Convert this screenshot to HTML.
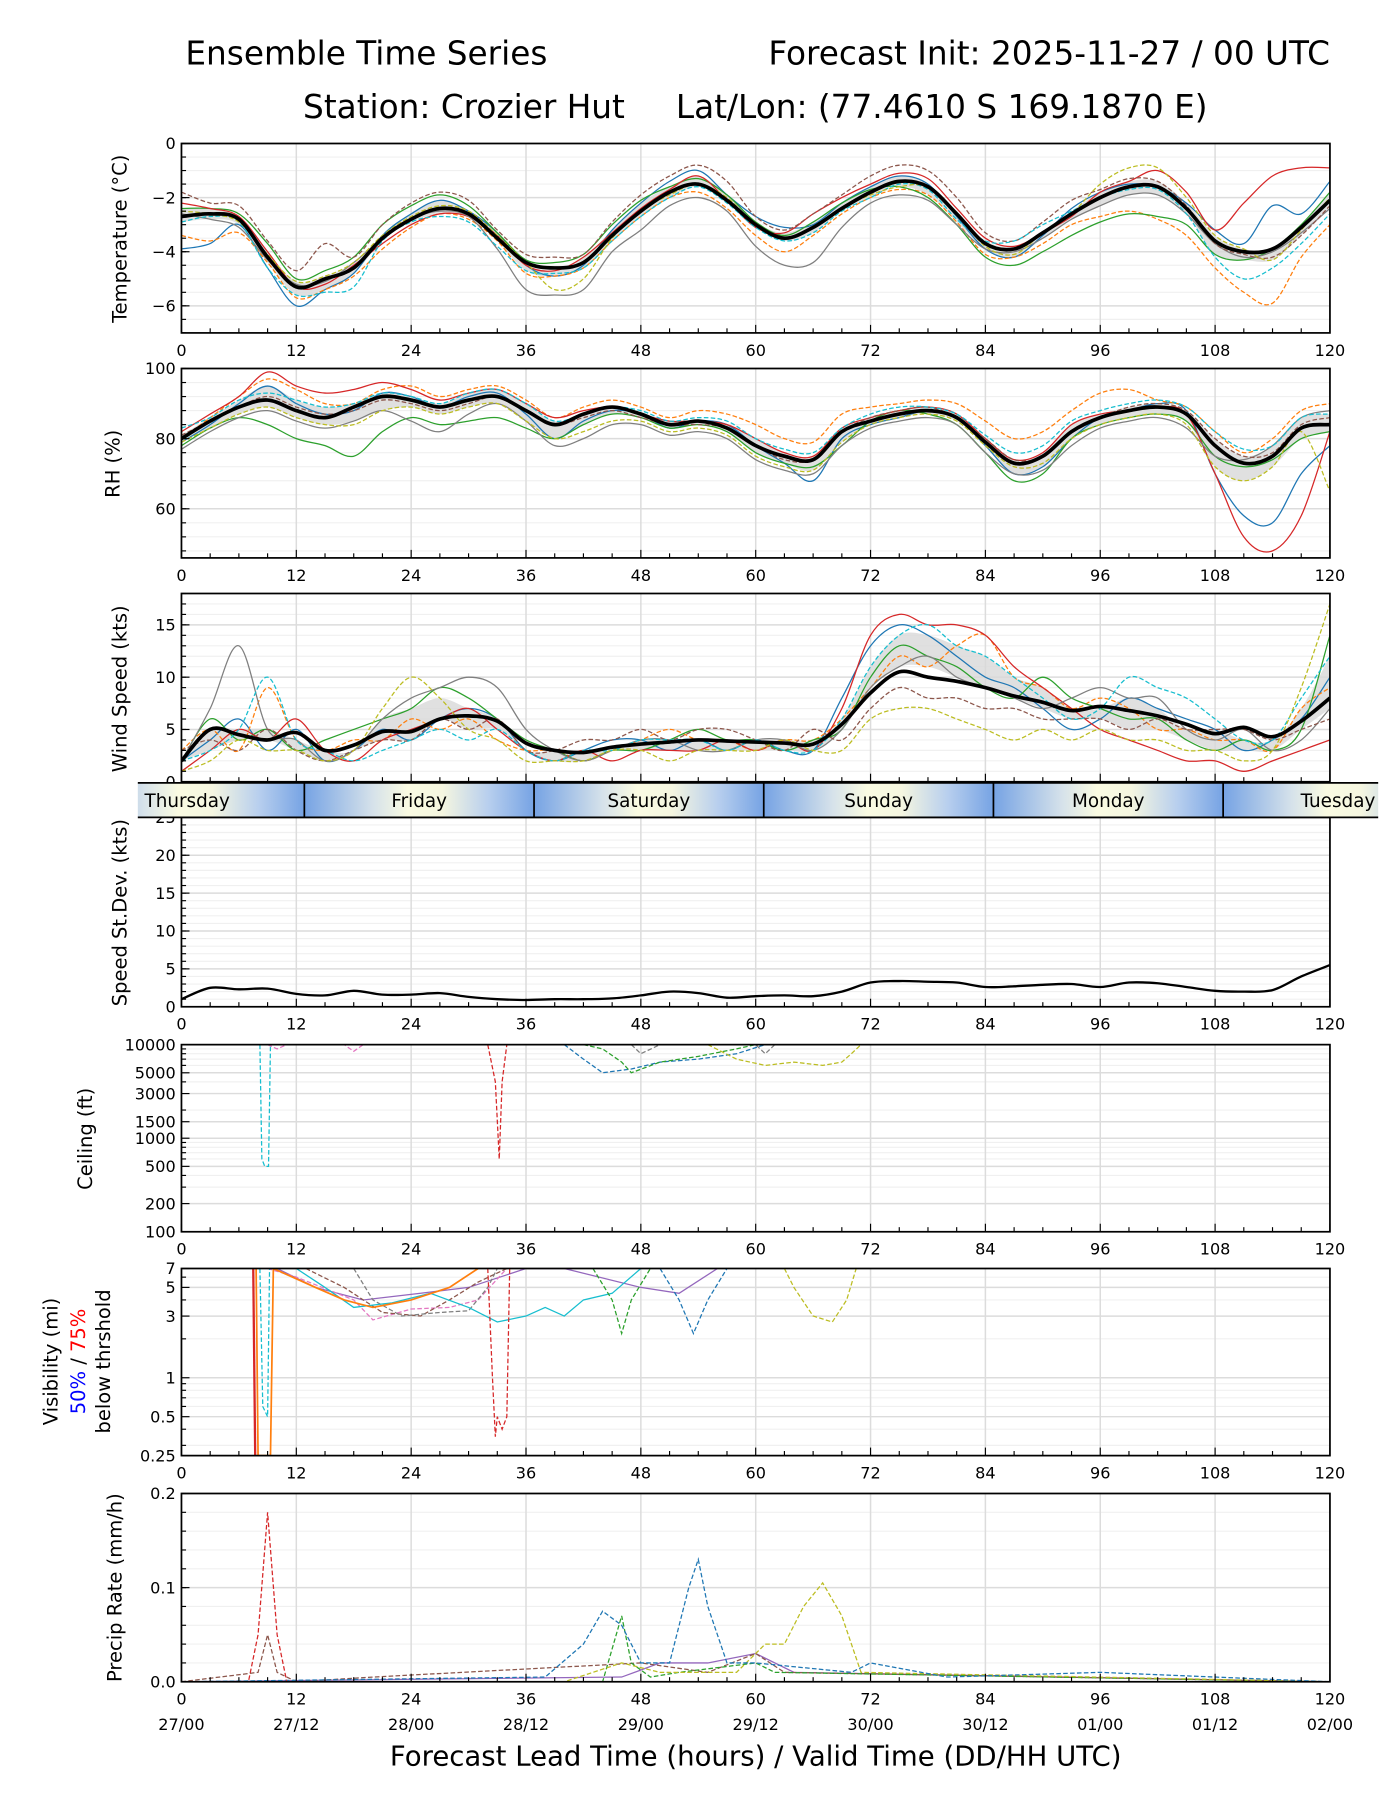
<!DOCTYPE html>
<html><head><meta charset="utf-8"><style>
html,body{margin:0;padding:0;background:#fff;}
svg{display:block;font-family:"DejaVu Sans","Liberation Sans",sans-serif;}
</style></head><body>
<svg id="chart" width="1400" height="1800" viewBox="0 0 1219 1568" preserveAspectRatio="none" xmlns="http://www.w3.org/2000/svg">
<defs>
<linearGradient id="dayGrad" gradientUnits="userSpaceOnUse" x1="265" y1="0" x2="465" y2="0" spreadMethod="repeat">
<stop offset="0" stop-color="#76a3e4"/><stop offset="0.3" stop-color="#d6e2ea"/><stop offset="0.45" stop-color="#fafbe2"/><stop offset="0.6" stop-color="#f5f6e0"/><stop offset="0.8" stop-color="#b8cfee"/><stop offset="1" stop-color="#76a3e4"/>
</linearGradient>
</defs>
<text x="319" y="56" font-size="28.5" text-anchor="middle">Ensemble Time Series</text>
<text x="1158" y="56" font-size="28.5" text-anchor="end">Forecast Init: 2025-11-27 / 00 UTC</text>
<text x="404" y="103" font-size="28.5" text-anchor="middle">Station: Crozier Hut</text>
<text x="820" y="103" font-size="28.5" text-anchor="middle">Lat/Lon: (77.4610 S 169.1870 E)</text>
<g id="layer"></g>
</svg>
<script>
// ---------- DATA ----------
const hours3 = [0,3,6,9,12,15,18,21,24,27,30,33,36,39,42,45,48,51,54,57,60,63,66,69,72,75,78,81,84,87,90,93,96,99,102,105,108,111,114,117,120];
const xTicks = [0,12,24,36,48,60,72,84,96,108,120];
const dateLabels = ["27/00","27/12","28/00","28/12","29/00","29/12","30/00","30/12","01/00","01/12","02/00"];
const dayNames = ["Thursday","Friday","Saturday","Sunday","Monday","Tuesday"];
const colors = ["#1f77b4","#ff7f0e","#2ca02c","#d62728","#7f7f7f","#8c564b","#17becf","#bcbd22"];
const dashed = [false,true,false,false,false,true,true,true];

const tempMean = [-2.7,-2.6,-2.8,-4.2,-5.3,-5.0,-4.6,-3.5,-2.8,-2.4,-2.6,-3.5,-4.4,-4.6,-4.4,-3.4,-2.5,-1.8,-1.5,-2.1,-3.0,-3.5,-3.1,-2.4,-1.8,-1.4,-1.6,-2.6,-3.7,-3.9,-3.3,-2.6,-2.0,-1.6,-1.6,-2.4,-3.6,-4.0,-3.9,-3.1,-2.1];
const tempM1 = [-3.9,-3.7,-3.0,-4.6,-6.0,-5.4,-4.8,-3.4,-2.6,-2.1,-2.5,-3.3,-4.5,-4.9,-4.5,-3.2,-2.2,-1.4,-1.0,-1.9,-2.7,-3.1,-3.0,-2.2,-1.6,-1.2,-1.5,-2.7,-3.9,-4.2,-3.4,-2.4,-1.8,-1.5,-1.6,-2.2,-3.2,-3.7,-2.3,-2.6,-1.4];
const tempM2 = [-3.4,-3.6,-3.3,-4.4,-5.7,-5.4,-4.9,-3.9,-3.1,-2.6,-2.8,-3.6,-4.8,-4.9,-4.6,-3.6,-2.7,-2.0,-1.8,-2.4,-3.4,-4.0,-3.4,-2.6,-2.0,-1.7,-1.9,-2.9,-4.1,-4.2,-3.7,-3.0,-2.7,-2.5,-2.8,-3.4,-4.6,-5.5,-5.9,-4.2,-3.0];
const tempM3 = [-2.4,-2.4,-2.6,-3.7,-5.0,-4.7,-4.2,-3.0,-2.3,-1.9,-2.3,-3.3,-4.3,-4.4,-4.1,-3.0,-2.1,-1.6,-1.3,-1.9,-2.9,-3.4,-2.9,-2.2,-1.7,-1.6,-2.0,-3.0,-4.2,-4.5,-4.0,-3.4,-2.9,-2.6,-2.7,-3.0,-4.1,-4.3,-3.9,-3.0,-1.8];
const tempM4 = [-2.2,-2.4,-2.7,-4.0,-5.3,-5.2,-4.5,-3.7,-3.0,-2.6,-2.7,-3.4,-4.5,-4.7,-4.2,-3.3,-2.4,-1.7,-1.2,-2.1,-3.1,-3.3,-2.6,-2.0,-1.5,-1.1,-1.3,-2.4,-3.5,-3.8,-3.3,-2.7,-1.8,-1.4,-1.0,-1.8,-3.2,-2.2,-1.2,-0.9,-0.9];
const tempM5 = [-2.6,-2.8,-3.1,-4.3,-5.2,-5.1,-4.4,-3.5,-2.8,-2.5,-2.7,-3.9,-5.4,-5.6,-5.4,-4.0,-3.2,-2.3,-2.0,-2.5,-3.8,-4.5,-4.4,-3.1,-2.2,-1.9,-2.1,-3.0,-3.9,-4.0,-3.5,-2.8,-2.3,-1.9,-1.9,-2.6,-3.7,-4.2,-4.0,-3.3,-2.4];
const tempM6 = [-1.8,-2.2,-2.3,-3.6,-4.7,-3.7,-4.2,-3.0,-2.2,-1.8,-2.1,-3.2,-4.1,-4.2,-4.1,-2.9,-1.9,-1.2,-0.8,-1.4,-2.7,-3.2,-2.6,-1.9,-1.2,-0.8,-1.0,-2.0,-3.3,-3.6,-2.9,-2.1,-1.7,-1.3,-1.4,-2.3,-3.7,-4.1,-4.2,-3.4,-2.3];
const tempM7 = [-2.9,-2.7,-2.9,-4.6,-5.6,-5.5,-5.3,-3.6,-2.9,-2.7,-2.9,-3.8,-4.7,-4.8,-4.6,-3.6,-2.7,-2.0,-1.6,-2.2,-3.1,-3.6,-3.3,-2.5,-2.0,-1.5,-1.7,-2.8,-3.6,-3.6,-3.0,-2.5,-2.0,-1.7,-1.7,-2.6,-4.2,-5.0,-4.6,-3.7,-2.6];
const tempM8 = [-2.5,-2.6,-2.9,-4.1,-5.1,-4.9,-4.4,-3.4,-2.7,-2.3,-2.5,-3.4,-4.4,-5.4,-5.0,-3.5,-2.5,-1.9,-1.5,-2.0,-3.0,-3.5,-3.1,-2.4,-1.9,-1.6,-1.6,-2.6,-3.8,-4.1,-3.3,-2.6,-1.5,-0.9,-0.9,-2.0,-3.4,-3.9,-4.3,-3.2,-2.0];

const rhMean = [80,85,89,91,88,86,89,92,91,89,91,92,88,84,87,89,87,84,85,83,78,75,74,82,85,87,88,86,79,73,75,82,86,88,89,87,78,73,75,83,84];
const rhM1 = [79,84,90,95,90,87,88,93,92,89,92,93,87,80,85,88,87,83,85,84,78,73,68,80,84,86,88,86,78,70,72,80,86,88,90,88,70,58,56,70,78];
const rhM2 = [80,86,92,97,94,90,90,94,95,92,94,95,91,86,89,91,89,86,88,87,84,80,79,87,89,90,91,90,85,80,82,88,93,94,91,89,82,76,80,88,90];
const rhM3 = [78,83,86,84,80,78,75,82,86,84,85,86,83,80,84,87,86,83,84,82,76,73,72,78,85,88,87,84,76,68,70,80,84,86,87,85,75,72,74,80,82];
const rhM4 = [82,87,92,99,95,93,94,96,94,91,93,94,90,86,88,89,87,85,85,84,80,76,75,83,86,88,89,87,80,74,76,84,87,88,89,87,70,52,48,58,82];
const rhM5 = [77,82,86,88,85,83,85,88,85,82,87,90,85,78,80,84,84,81,82,80,74,71,70,78,83,85,86,84,76,70,71,78,83,85,86,83,75,74,78,86,88];
const rhM6 = [81,85,89,92,89,87,88,91,90,88,90,92,88,84,86,88,86,84,84,83,78,74,74,82,86,88,89,86,80,74,75,82,86,89,90,88,80,75,76,84,86];
const rhM7 = [83,86,91,93,91,89,90,93,92,90,93,94,90,85,87,89,88,85,86,85,80,77,76,83,87,89,89,87,81,76,78,85,88,90,91,89,82,77,78,86,87];
const rhM8 = [79,83,87,89,86,84,84,88,89,87,89,90,85,80,82,85,85,82,83,81,75,72,71,79,84,86,87,85,78,72,73,80,84,86,87,84,72,68,72,82,65];

const windMean = [2,5,4.5,4,4.7,3,3.5,4.8,4.8,6.0,6.3,5.8,3.7,3.0,2.8,3.3,3.6,3.8,4.0,3.9,3.8,3.7,3.6,5.5,8.5,10.5,10.0,9.6,9.0,8.2,7.6,6.8,7.2,6.8,6.3,5.5,4.6,5.2,4.3,5.8,8.0];
const windM1 = [2,4,6,3,5,2,3,5,4,6,7,6,3,2,3,4,4,3,4,3,4,3,3,8,13,15,14,12,10,9,7,5,6,8,7,6,5,3,4,6,10];
const windM2 = [3,5,3,9,4,3,4,4,6,5,6,4,3,3,2,3,4,5,4,4,3,4,4,6,9,12,11,13,14,10,9,7,8,7,5,5,4,4,3,7,9];
const windM3 = [2,6,4,5,3,4,5,6,7,9,8,6,4,3,2,3,3,4,5,4,4,3,4,5,10,13,12,11,9,8,10,8,7,6,6,4,3,4,3,5,14];
const windM4 = [1,3,5,4,6,3,2,4,5,6,7,5,3,2,3,2,3,3,3,4,3,4,3,7,14,16,15,15,14,11,9,7,5,4,3,2,2,1,2,3,4];
const windM5 = [2,7,13,5,4,2,3,6,8,9,10,9,5,3,2,3,4,4,3,3,4,4,3,5,9,11,12,10,9,8,7,8,9,8,8,5,4,5,3,4,7];
const windM6 = [3,4,3,5,3,2,3,4,4,6,5,6,3,3,4,4,5,4,5,5,4,3,5,4,7,9,8,8,7,7,6,6,6,5,6,5,5,5,4,5,6];
const windM7 = [2,3,5,10,4,3,2,3,4,5,4,5,3,2,3,3,4,4,4,3,4,3,3,6,11,14,15,13,12,10,8,6,7,10,9,8,6,4,4,8,12];
const windM8 = [1,2,4,3,3,2,3,7,10,8,5,4,2,2,2,3,3,2,3,3,3,4,3,3,6,7,7,6,5,4,5,4,5,4,4,3,3,2,3,9,17];

const stdev = [1.0,2.5,2.3,2.4,1.7,1.5,2.1,1.6,1.6,1.8,1.3,1.0,0.9,1.0,1.0,1.1,1.5,2.0,1.8,1.2,1.4,1.5,1.4,2.0,3.2,3.4,3.3,3.2,2.6,2.7,2.9,3.0,2.6,3.2,3.1,2.6,2.1,2.0,2.2,4.0,5.5];

const ceilCyan = [[8.2,10000],[8.4,600],[8.7,500],[9.1,500],[9.3,10000]];
const ceilRed = [[32,10000],[32.8,4000],[33.2,600],[33.5,4000],[34,10000]];
const ceilBlue = [[40,10000],[42,7000],[44,5000],[47,5500],[50,6500],[54,7000],[58,8000],[61,10000]];
const ceilGreen = [[42,10000],[44,9000],[46,6500],[47,5000],[50,6500],[54,7500],[58,9000],[60,10000]];
const ceilOlive = [[55,10000],[58,7000],[61,6000],[64,6500],[67,6000],[69,6500],[70,8000],[71,10000]];
const ceilGrey = [[47,10000],[48,8000],[50,10000],[60,10000],[61,8000],[62,10000]];
const ceilPink = [[9,10000],[10,9000],[11,10000],[17,10000],[18,8500],[19,10000]];

const visRed = [[7.5,7],[7.7,0.25]];
const visRedDash = [[32,7],[32.5,1],[32.8,0.35],[33,0.5],[33.5,0.4],[34,0.5],[34.3,7]];
const visCyan = [[12,7],[15,5],[18,3.5],[22,3.8],[26,4.5],[30,3.5],[33,2.7],[36,3],[38,3.5],[40,3],[42,4],[45,4.5],[48,7]];
const visBlueDash = [[50,7],[52,4],[53.5,2.2],[55,4],[57,7]];
const visOlive = [[63,7],[64,5],[66,3],[68,2.7],[69.5,4],[70.5,7]];
const visGreen = [[43,7],[45,4],[46,2.2],[47,4],[49,7]];
const visGrey = [[18,7],[20,4],[23,3],[27,3.2],[30,3.3],[32,5],[33,7]];
const visPurple = [[10,7],[14,5],[19,4],[25,4.5],[30,5],[36,7],[40,7],[48,5],[52,4.5],[56,7]];
const visBrown = [[13,7],[17,5],[21,3.2],[25,3],[28,4],[31,5.5],[34,7]];
const visPink = [[9,7],[12,6],[18,4],[20,2.8],[24,3.4],[28,3.5],[31,4],[34,7]];
const visCyanDrop = [[8.2,7],[8.5,0.6],[9,0.5],[9.2,7]];
const visOrange = [[7.8,7],[8.0,0.25],[9.3,0.25],[9.6,7],[14,5],[17,4],[20,3.5],[24,4],[28,5],[31,7]];

const pRed = [[0,0],[7,0],[8,0.05],[9,0.18],[10,0.05],[11,0],[120,0]];
const pBlue = [[0,0],[38,0.005],[42,0.04],[44,0.075],[46,0.06],[48,0.02],[51,0.02],[53,0.1],[54,0.13],[55,0.08],[57,0.02],[60,0.02],[70,0.01],[72,0.02],[80,0.005],[96,0.01],[108,0.005],[120,0]];
const pOlive = [[0,0],[40,0],[46,0.02],[50,0.01],[58,0.01],[61,0.04],[63,0.04],[65,0.08],[67,0.105],[69,0.07],[71,0.01],[120,0]];
const pGreen = [[0,0],[44,0],[46,0.07],[47,0.02],[49,0.005],[52,0.01],[60,0.02],[62,0.01],[120,0]];
const pBrown = [[0,0],[8,0.01],[9,0.05],[10,0.01],[12,0],[20,0.005],[48,0.02],[55,0.01],[60,0.03],[63,0.01],[120,0]];
const pPurple = [[0,0],[46,0.005],[50,0.02],[55,0.02],[60,0.03],[64,0.01],[120,0]];

// ---------- DRAW ----------
const NS = "http://www.w3.org/2000/svg";
const layer = document.getElementById("layer");
const X0 = 158, X1 = 1158;
const xs = h => X0 + (X1 - X0) * h / 120;
function mk(tag, attrs, parent) {
  const e = document.createElementNS(NS, tag);
  for (const k in attrs) e.setAttribute(k, attrs[k]);
  (parent || layer).appendChild(e);
  return e;
}
function smoothPath(pts) {
  let d = "M" + pts[0][0].toFixed(1) + "," + pts[0][1].toFixed(1);
  for (let i = 0; i < pts.length - 1; i++) {
    const p0 = pts[Math.max(0, i - 1)], p1 = pts[i], p2 = pts[i + 1], p3 = pts[Math.min(pts.length - 1, i + 2)];
    const c1x = p1[0] + (p2[0] - p0[0]) / 6, c1y = p1[1] + (p2[1] - p0[1]) / 6;
    const c2x = p2[0] - (p3[0] - p1[0]) / 6, c2y = p2[1] - (p3[1] - p1[1]) / 6;
    d += "C" + c1x.toFixed(1) + "," + c1y.toFixed(1) + " " + c2x.toFixed(1) + "," + c2y.toFixed(1) + " " + p2[0].toFixed(1) + "," + p2[1].toFixed(1);
  }
  return d;
}
function linePath(pts) { return "M" + pts.map(p => p[0].toFixed(1) + "," + p[1].toFixed(1)).join("L"); }

function panel(name, top, bot, ys, yticks, ylabels, minorY, clipId) {
  const g = mk("g", {});
  
  
  minorY.forEach(v => mk("line", {x1: X0, x2: X1, y1: ys(v), y2: ys(v), stroke: "#f0f0f0", "stroke-width": 1}, g));
  yticks.forEach(v => mk("line", {x1: X0, x2: X1, y1: ys(v), y2: ys(v), stroke: "#dcdcdc", "stroke-width": 1.3}, g));
  xTicks.forEach(h => mk("line", {x1: xs(h), x2: xs(h), y1: top, y2: bot, stroke: "#dcdcdc", "stroke-width": 1.3}, g));
  const cp = mk("clipPath", {id: clipId}, g);
  mk("rect", {x: X0, y: top, width: X1 - X0, height: bot - top}, cp);
  const data = mk("g", {"clip-path": "url(#" + clipId + ")"}, g);
  for (let h = 0; h <= 120; h += 3) {
    const L = h % 12 === 0 ? 7 : 4;
    mk("line", {x1: xs(h), x2: xs(h), y1: bot, y2: bot - L, stroke: "#000", "stroke-width": 1}, g);
  }
  minorY.forEach(v => mk("line", {x1: X0, x2: X0 + 4, y1: ys(v), y2: ys(v), stroke: "#000", "stroke-width": 1}, g));
  yticks.forEach((v, i) => {
    mk("line", {x1: X0, x2: X0 + 7, y1: ys(v), y2: ys(v), stroke: "#000", "stroke-width": 1}, g);
    const t = mk("text", {x: X0 - 5, y: ys(v) + 5, "font-size": 14, "text-anchor": "end"}, g);
    t.textContent = ylabels[i];
    
    
  });
  xTicks.forEach(h => {
    const t = mk("text", {x: xs(h), y: bot + 20, "font-size": 14, "text-anchor": "middle"}, g);
    t.textContent = h;
    
    
  });
  return {g, data, frame: () => mk("rect", {x: X0, y: top, width: X1 - X0, height: bot - top, fill: "none", stroke: "#000", "stroke-width": 1.5}, g)};
}
function ylab(text, x, yc, size) {
  const t = mk("text", {x: x, y: yc, "font-size": size || 17, "text-anchor": "middle", transform: "rotate(-90 " + x + " " + yc + ")"});
  t.textContent = text;
  
  
  return t;
}
function ensemble(p, members, mean, ys, name) {
  const lo = [], hi = [];
  hours3.forEach((h, i) => {
    const v = members.map(m => m[i]).sort((a, b) => a - b);
    lo.push([xs(h), ys(v[2])]); hi.push([xs(h), ys(v[5])]);
  });
  const band = mk("path", {d: smoothPath(hi) + "L" + smoothPath(lo.slice().reverse()).slice(1) + "Z", fill: "#d8d8d8", "fill-opacity": 0.8, stroke: "none"}, p.data);
  
  
  members.forEach((m, k) => {
    const pts = hours3.map((h, i) => [xs(h), ys(m[i])]);
    const e = mk("path", {d: smoothPath(pts), fill: "none", stroke: colors[k], "stroke-width": 1.1, "stroke-dasharray": dashed[k] ? "4,2" : "none"}, p.data);
    
    
  });
  const mp = hours3.map((h, i) => [xs(h), ys(mean[i])]);
  const e = mk("path", {d: smoothPath(mp), fill: "none", stroke: "#000", "stroke-width": 3.2}, p.data);
  
  
}
function lin(top, bot, vmin, vmax) { return v => bot - (v - vmin) / (vmax - vmin) * (bot - top); }
function logs(top, bot, vmin, vmax) { return v => bot - (Math.log(v) - Math.log(vmin)) / (Math.log(vmax) - Math.log(vmin)) * (bot - top); }
function range(a, b, s) { const r = []; for (let v = a; v <= b + 1e-9; v += s) r.push(+v.toFixed(3)); return r; }

let ys = lin(125, 290, -7, 0);
let p = panel("temperature", 125, 290, ys, [0, -2, -4, -6], ["0", "\u22122", "\u22124", "\u22126"], range(-7, 0, 0.5), "cT");
ensemble(p, [tempM1, tempM2, tempM3, tempM4, tempM5, tempM6, tempM7, tempM8], tempMean, ys, "temperature");
p.frame(); ylab("Temperature (\u00b0C)", 110, 208);

ys = lin(321, 486, 46, 100);
p = panel("rh", 321, 486, ys, [60, 80, 100], ["60", "80", "100"], range(48, 100, 4), "cR");
ensemble(p, [rhM1, rhM2, rhM3, rhM4, rhM5, rhM6, rhM7, rhM8], rhMean, ys, "rh");
p.frame(); ylab("RH (%)", 104, 404);

ys = lin(517, 681, 0, 18);
p = panel("wind", 517, 681, ys, [0, 5, 10, 15], ["0", "5", "10", "15"], range(0, 18, 1), "cW");
ensemble(p, [windM1, windM2, windM3, windM4, windM5, windM6, windM7, windM8], windMean, ys, "wind");
p.frame(); ylab("Wind Speed (kts)", 110, 600);

ys = lin(712, 877, 0, 25);
p = panel("stdev", 712, 877, ys, [0, 5, 10, 15, 20, 25], ["0", "5", "10", "15", "20", "25"], range(0, 25, 1), "cS");
{
  const e = mk("path", {d: smoothPath(hours3.map((h, i) => [xs(h), ys(stdev[i])])), fill: "none", stroke: "#000", "stroke-width": 2}, p.data);
  
  
}
p.frame(); ylab("Speed St.Dev. (kts)", 110, 795);

{
  const g = mk("g", {});
  
  
  mk("rect", {x: 120, y: 682, width: 1080, height: 30, fill: "url(#dayGrad)"}, g);
  mk("line", {x1: 120, x2: 1200, y1: 682, y2: 682, stroke: "#000", "stroke-width": 1.5}, g);
  mk("line", {x1: 120, x2: 1200, y1: 712, y2: 712, stroke: "#000", "stroke-width": 1.5}, g);
  const centers = [163, 365, 565, 765, 965, 1165];
  dayNames.forEach((n, i) => {
    const t = mk("text", {x: centers[i], y: 703, "font-size": 16, "text-anchor": "middle"}, g);
    t.textContent = n;
    
    
    if (i > 0) mk("line", {x1: 65 + 200 * i, x2: 65 + 200 * i, y1: 682, y2: 712, stroke: "#000", "stroke-width": 1.5}, g);
  });
}

function drawSeries(p, list, ys, name) {
  list.forEach(s => {
    const e = mk("path", {d: linePath(s.d.map(q => [xs(q[0]), ys(q[1])])), fill: "none", stroke: s.c, "stroke-width": s.w || 1.1, "stroke-dasharray": s.dash ? "4,2" : "none"}, p.data);
    
    
  });
}

ys = logs(910, 1073, 100, 10000);
p = panel("ceiling", 910, 1073, ys, [100, 200, 500, 1000, 1500, 3000, 5000, 10000], ["100", "200", "500", "1000", "1500", "3000", "5000", "10000"], [300, 400, 600, 700, 800, 900, 2000, 4000, 6000, 7000, 8000, 9000], "cC");
drawSeries(p, [
  {d: ceilPink, c: "#e377c2", dash: true}, {d: ceilCyan, c: "#17becf", dash: true}, {d: ceilRed, c: "#d62728", dash: true},
  {d: ceilBlue, c: "#1f77b4", dash: true}, {d: ceilGreen, c: "#2ca02c", dash: true}, {d: ceilOlive, c: "#bcbd22", dash: true},
  {d: ceilGrey, c: "#7f7f7f", dash: true}], ys, "ceiling");
p.frame(); ylab("Ceiling (ft)", 80, 992);

ys = logs(1105, 1268, 0.25, 7);
p = panel("visibility", 1105, 1268, ys, [0.25, 0.5, 1, 3, 5, 7], ["0.25", "0.5", "1", "3", "5", "7"], [0.3, 0.4, 0.6, 0.7, 0.8, 0.9, 2, 4, 6], "cV");
drawSeries(p, [
  {d: visPurple, c: "#9467bd"}, {d: visPink, c: "#e377c2", dash: true}, {d: visBrown, c: "#8c564b", dash: true},
  {d: visGrey, c: "#7f7f7f", dash: true}, {d: visCyan, c: "#17becf"}, {d: visGreen, c: "#2ca02c", dash: true},
  {d: visBlueDash, c: "#1f77b4", dash: true}, {d: visOlive, c: "#bcbd22", dash: true}, {d: visCyanDrop, c: "#17becf", dash: true},
  {d: visRedDash, c: "#d62728", dash: true}, {d: visOrange, c: "#ff7f0e", w: 1.5}, {d: visRed, c: "#d62728", w: 2}], ys, "visibility");
p.frame();
ylab("Visibility (mi)", 50, 1186);
{
  const t = mk("text", {x: 74, y: 1186, "font-size": 17, "text-anchor": "middle", transform: "rotate(-90 74 1186)"});
  
  
  const a = mk("tspan", {fill: "#0000ff"}, t); a.textContent = "50%";
  const b = mk("tspan", {fill: "#000"}, t); b.textContent = " / ";
  const c = mk("tspan", {fill: "#ff0000"}, t); c.textContent = "75%";
}
ylab("below thrshold", 96, 1186);

ys = lin(1301, 1465, 0, 0.2);
p = panel("precip", 1301, 1465, ys, [0, 0.1, 0.2], ["0.0", "0.1", "0.2"], range(0, 0.2, 0.02), "cP");
drawSeries(p, [
  {d: pPurple, c: "#9467bd"}, {d: pBrown, c: "#8c564b", dash: true}, {d: pGreen, c: "#2ca02c", dash: true},
  {d: pOlive, c: "#bcbd22", dash: true}, {d: pBlue, c: "#1f77b4", dash: true}, {d: pRed, c: "#d62728", dash: true}], ys, "precip");
p.frame(); ylab("Precip Rate (mm/h)", 106, 1383);
xTicks.forEach((h, i) => {
  const t = mk("text", {x: xs(h), y: 1507, "font-size": 14, "text-anchor": "middle"});
  t.textContent = dateLabels[i];
  
  
});
{
  const t = mk("text", {x: 658, y: 1538, "font-size": 24, "text-anchor": "middle"});
  t.textContent = "Forecast Lead Time (hours) / Valid Time (DD/HH UTC)";
  
  
}
</script>
</body></html>
